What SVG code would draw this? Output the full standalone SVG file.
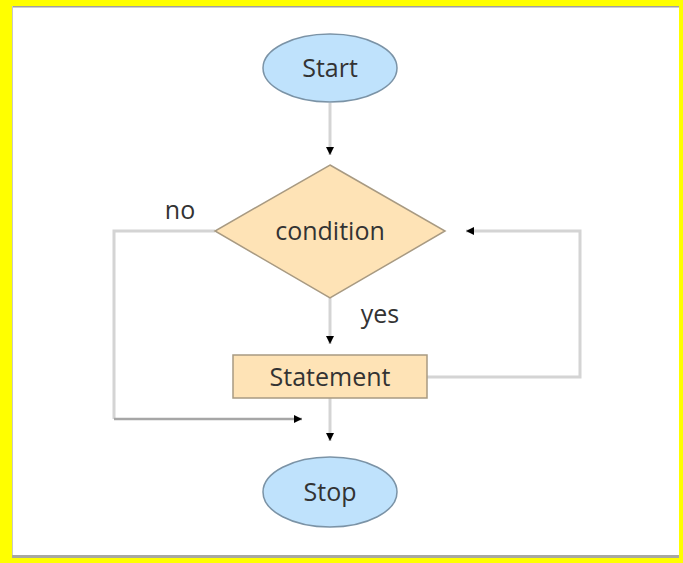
<svg xmlns="http://www.w3.org/2000/svg" width="683" height="563" viewBox="0 0 683 563">
  <style>
    .term { fill: #bfe2fc; stroke: #7b93a6; stroke-width: 1.5; }
    .proc { fill: #fee3b6; stroke: #a89a82; stroke-width: 1.5; }
    .label { font-family: "Open Sans", "Liberation Sans", sans-serif; font-size: 25px; fill: #333333; text-anchor: middle; dominant-baseline: central; }
    .edge { fill: none; stroke: #d4d4d4; stroke-width: 3; }
    .edge-dark { fill: none; stroke: #a6a6a6; stroke-width: 2.5; }
    .note { font-family: "Open Sans", "Liberation Sans", sans-serif; font-size: 25px; fill: #333333; text-anchor: middle; }
  </style>
  <defs>
    <marker id="arrow" viewBox="0 0 10 10" refX="10" refY="5" markerWidth="8" markerHeight="8" markerUnits="userSpaceOnUse" orient="auto">
      <path d="M0,0 L10,5 L0,10 z" fill="#000"/>
    </marker>
  </defs>

  <!-- frame -->
  <rect x="0" y="0" width="683" height="563" fill="#ffff00"/>
  <rect x="12" y="6" width="667" height="552" fill="#ffffff"/>
  <line x1="12" y1="6.75" x2="679" y2="6.75" stroke="#a0a0a0" stroke-width="1.5"/>
  <line x1="12.5" y1="6" x2="12.5" y2="558" stroke="#c8c8c8" stroke-width="1"/>
  <line x1="12" y1="556.5" x2="679" y2="556.5" stroke="#a8a8a0" stroke-width="3"/>

  <!-- connectors -->
  <g id="connectors">
    <line class="edge" x1="330" y1="103" x2="330" y2="155" marker-end="url(#arrow)"/>
    <line class="edge" x1="330" y1="298" x2="330" y2="344" marker-end="url(#arrow)"/>
    <line class="edge" x1="330" y1="398" x2="330" y2="441" marker-end="url(#arrow)"/>
    <polyline class="edge" points="427,377 580,377 580,231 466,231" marker-end="url(#arrow)"/>
    <polyline class="edge" points="215,231 114,231 114,419"/>
    <line class="edge-dark" x1="114" y1="419" x2="302" y2="419" marker-end="url(#arrow)"/>
    <text class="note" x="180" y="219">no</text>
    <text class="note" x="380" y="323">yes</text>
  </g>

  <g id="start">
    <ellipse class="term" cx="330" cy="68" rx="67" ry="34"/>
    <text class="label" x="330" y="67">Start</text>
  </g>

  <g id="condition">
    <polygon class="proc" points="330,165 445,231 330,298 215,231"/>
    <text class="label" x="330" y="230">condition</text>
  </g>

  <g id="statement">
    <rect class="proc" x="233" y="355" width="194" height="43"/>
    <text class="label" x="330" y="376">Statement</text>
  </g>

  <g id="stop">
    <ellipse class="term" cx="330" cy="492" rx="67" ry="35"/>
    <text class="label" x="330" y="491">Stop</text>
  </g>
</svg>
